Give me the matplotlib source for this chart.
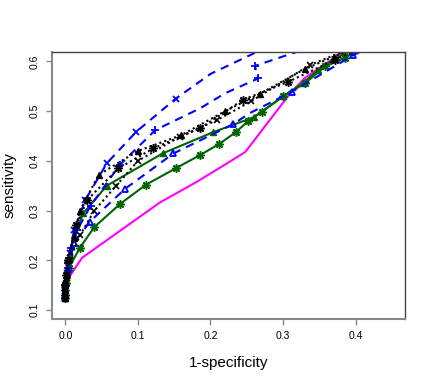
import numpy as np
import matplotlib.pyplot as plt

plt.rcParams['font.family'] = ['Liberation Sans', 'DejaVu Sans']

# ROC-type curves (1-specificity, sensitivity)
mag_x = [0.0, 0.002, 0.007, 0.023, 0.13, 0.18, 0.215, 0.248, 0.27, 0.31, 0.33, 0.38, 0.45]
mag_y = [0.13, 0.15, 0.17, 0.205, 0.316, 0.357, 0.388, 0.418, 0.46, 0.536, 0.567, 0.617, 0.68]

# green, asterisk markers
g1_x = [0.0, 0.0, 0.001, 0.005, 0.02, 0.04, 0.076, 0.111, 0.152, 0.186, 0.212, 0.235, 0.252, 0.271, 0.30, 0.33, 0.358, 0.385, 0.42]
g1_y = [0.125, 0.14, 0.155, 0.185, 0.225, 0.267, 0.314, 0.352, 0.385, 0.412, 0.434, 0.458, 0.48, 0.499, 0.53, 0.556, 0.59, 0.607, 0.64]

# green, filled triangles
g2_x = [0.0, 0.0, 0.002, 0.006, 0.012, 0.025, 0.057, 0.134, 0.204, 0.26, 0.30, 0.327, 0.348, 0.385, 0.42]
g2_y = [0.125, 0.145, 0.17, 0.21, 0.25, 0.295, 0.35, 0.415, 0.458, 0.488, 0.53, 0.556, 0.583, 0.617, 0.645]

# blue dashed, x markers (top)
b1_x = [0.0, 0.0, 0.002, 0.006, 0.012, 0.0275, 0.057, 0.098, 0.152, 0.20, 0.265, 0.30]
b1_y = [0.125, 0.145, 0.175, 0.215, 0.26, 0.321, 0.395, 0.459, 0.525, 0.575, 0.62, 0.64]
b1_marks = [0, 1, 2, 3, 4, 5, 6, 7, 8]

# blue dashed, plus markers
b2_x = [0.0, 0.0, 0.003, 0.008, 0.016, 0.035, 0.075, 0.124, 0.186, 0.22, 0.266, 0.261, 0.32, 0.36]
b2_y = [0.125, 0.15, 0.185, 0.225, 0.26, 0.31, 0.392, 0.462, 0.506, 0.536, 0.566, 0.591, 0.62, 0.64]
b2_marks = [0, 1, 2, 3, 4, 5, 6, 7, 10, 11]

# blue dashed, open triangles (lowest blue)
b3_x = [0.0, 0.0, 0.003, 0.012, 0.034, 0.0825, 0.149, 0.2315, 0.254, 0.312, 0.397, 0.45]
b3_y = [0.125, 0.15, 0.18, 0.235, 0.278, 0.344, 0.415, 0.474, 0.496, 0.539, 0.613, 0.65]
b3_marks = [0, 1, 2, 3, 4, 5, 6, 7, 9, 10]

# black dotted curves
k1_x = [0.0, 0.0, 0.0, 0.002, 0.0115, 0.02, 0.046, 0.10, 0.16, 0.22, 0.268, 0.33, 0.37, 0.42]
k1_y = [0.125, 0.14, 0.16, 0.20, 0.244, 0.30, 0.372, 0.42, 0.452, 0.50, 0.535, 0.585, 0.61, 0.64]

k2_x = [0.0, 0.0, 0.001, 0.004, 0.015, 0.03, 0.073, 0.121, 0.186, 0.245, 0.307, 0.371, 0.42]
k2_y = [0.13, 0.15, 0.17, 0.20, 0.27, 0.321, 0.385, 0.425, 0.466, 0.523, 0.559, 0.603, 0.635]

k3_x = [0.0, 0.0, 0.002, 0.006, 0.02, 0.04, 0.07, 0.10, 0.158, 0.209, 0.256, 0.337, 0.40]
k3_y = [0.128, 0.145, 0.165, 0.20, 0.25, 0.30, 0.35, 0.40, 0.449, 0.482, 0.52, 0.593, 0.63]

fig = plt.figure(figsize=(4.32, 3.85), dpi=100)
ax = fig.add_axes([0.121, 0.1706, 0.8165, 0.6951])

ast = (8, 2, 0)
lw = 1.5
dash = (0, (4, 3))
dot = (0, (1, 1.5))

ax.plot(mag_x, mag_y, color='#FF00FF', lw=lw)
ax.plot(g1_x, g1_y, color='#006400', lw=lw, marker=ast, ms=6, mew=1.1)
ax.plot(g2_x, g2_y, color='#006400', lw=lw, marker='^', ms=4.5)
ax.plot(b3_x, b3_y, color='#0000FF', lw=lw, ls=dash, marker='^', ms=5,
        mfc='none', mew=1.3, markevery=b3_marks)
ax.plot(b2_x, b2_y, color='#0000FF', lw=lw, ls=dash, marker='+', ms=6, mew=1.3,
        markevery=b2_marks)
ax.plot(b1_x, b1_y, color='#0000FF', lw=lw, ls=dash, marker='x', ms=5, mew=1.3,
        markevery=b1_marks)
ax.plot(k3_x, k3_y, color='black', lw=lw, ls=dot, marker='x', ms=4.5, mew=1.2)
ax.plot(k2_x, k2_y, color='black', lw=lw, ls=dot, marker=ast, ms=6, mew=1.1)
ax.plot(k1_x, k1_y, color='black', lw=lw, ls=dot, marker='^', ms=4.5)

ax.set_xlim(-0.018, 0.468)
ax.set_ylim(0.0812, 0.6197)
ax.set_xticks([0.0, 0.1, 0.2, 0.3, 0.4])
ax.set_yticks([0.1, 0.2, 0.3, 0.4, 0.5, 0.6])
ax.set_xticklabels(['0.0', '0.1', '0.2', '0.3', '0.4'])
ax.set_yticklabels(['0.1', '0.2', '0.3', '0.4', '0.5', '0.6'], rotation=90, va='center')
ax.tick_params(labelsize=7.5, length=4.3, width=1, color='#888888', pad=4)
ax.tick_params(axis='y', pad=5)

for s in ['top', 'right']:
    ax.spines[s].set_color('#444444')
    ax.spines[s].set_linewidth(1)
for s in ['left', 'bottom']:
    ax.spines[s].set_color('#888888')
    ax.spines[s].set_linewidth(1.5)

ax.set_xlabel('1-specificity', fontsize=11, labelpad=11)
ax.set_ylabel('sensitivity', fontsize=11, labelpad=9)

fig.savefig('out.png', dpi=100)
